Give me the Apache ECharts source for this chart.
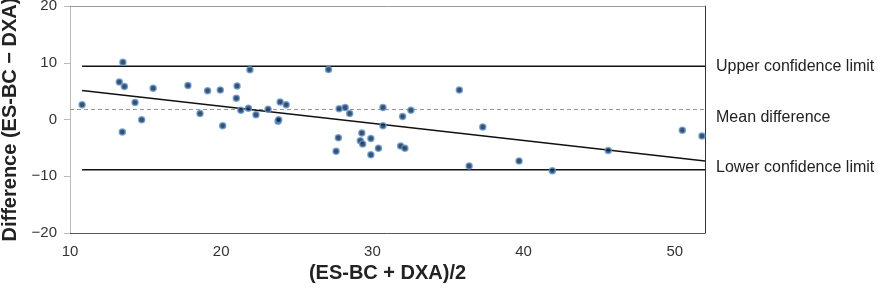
<!DOCTYPE html>
<html>
<head>
<meta charset="utf-8">
<script src="https://cdn.jsdelivr.net/npm/echarts@6/dist/echarts.min.js"></script>
<style>
  html, body { margin: 0; padding: 0; background: #fff; }
  #chart { width: 878px; height: 290px; }
</style>
</head>
<body>
<div id="chart"></div>
<script>
// 数据：平均值 (ES-BC + DXA)/2 和差值 (ES-BC - DXA)
const avgValues = [10.8, 13.5, 13.26, 13.6, 14.3, 14.74, 13.46, 15.5, 17.8, 19.1,
  18.6, 19.94, 20.1, 21.05, 21.0, 21.9, 21.3, 21.8, 22.3, 23.1,
  23.9, 24.3, 23.76, 23.8, 27.1, 27.8, 27.75, 27.6, 28.2, 28.5,
  30.7, 32.0, 32.55, 35.75, 37.3, 50.5, 51.8, 30.7, 29.3, 29.2,
  29.36, 29.9, 29.9, 30.4, 31.87, 32.15, 36.4, 39.7, 41.9, 45.6];
const diffValues = [2.6, 10.1, 6.6, 5.8, 3.0, -0.05, -2.2, 5.5, 6.0, 5.05,
  1.06, 5.2, -1.1, 5.9, 3.76, 8.75, 1.64, 2.0, 0.82, 1.82,
  3.1, 2.6, -0.3, -0.05, 8.8, 1.9, -3.2, -5.6, 2.1, 1.06,
  2.1, 0.53, 1.64, 5.2, -1.3, -1.9, -2.9, -1.1, -2.4, -3.76,
  -4.3, -3.35, -6.2, -5.05, -4.65, -5.05, -8.2, -7.3, -9.05, -5.46];

const limitX = [10.8, 52];
const meanX = [10, 52];
const upperLimit = 9.4;
const lowerLimit = -8.87;
const meanDiff = 1.76;
const trendX = [10.8, 52];
const trendY = [5.1, -7.3];

const xTicks = { min: 10, max: 52, interval: 10 };
const yTicks = { min: -20, max: 20, interval: 10 };

const font = "'Liberation Sans', Arial, sans-serif";
const chart = echarts.init(document.getElementById('chart'));

const lineLabel = (offsetY) => ({
  show: true,
  formatter: '{a}',
  color: '#222',
  fontSize: 16,
  fontFamily: font,
  distance: 11,
  offset: [0, offsetY]
});

const option = {
  animation: false,
  grid: { left: 70, right: 173, top: 6, bottom: 57, outerBoundsMode: 'none', containLabel: false },
  xAxis: [
    {
      type: 'value',
      min: xTicks.min,
      max: xTicks.max,
      interval: xTicks.interval,
      name: '(ES-BC + DXA)/2',
      nameLocation: 'middle',
      nameGap: 28,
      nameTextStyle: { fontSize: 20, fontWeight: 'bold', color: '#222', fontFamily: font },
      axisLine: { onZero: false, lineStyle: { color: '#555' } },
      axisTick: { show: false },
      axisLabel: { color: '#333', fontSize: 15, fontFamily: font, margin: 11, showMaxLabel: false },
      splitLine: { show: false }
    },
    {
      type: 'value',
      position: 'top',
      min: xTicks.min,
      max: xTicks.max,
      axisLine: { show: true, onZero: false, lineStyle: { color: '#999' } },
      axisTick: { show: false },
      axisLabel: { show: false },
      splitLine: { show: false }
    }
  ],
  yAxis: [
    {
      type: 'value',
      min: yTicks.min,
      max: yTicks.max,
      interval: yTicks.interval,
      name: 'Difference (ES-BC − DXA)',
      nameLocation: 'middle',
      nameGap: 44,
      nameTextStyle: { fontSize: 20, fontWeight: 'bold', color: '#222', fontFamily: font },
      axisLine: { show: true, onZero: false, lineStyle: { color: '#bbb' } },
      axisTick: { show: true, length: 6, lineStyle: { color: '#bbb' } },
      axisLabel: {
        color: '#333', fontSize: 15, fontFamily: font, margin: 13,
        formatter: v => String(v).replace('-', '−')
      },
      splitLine: { show: false }
    },
    {
      type: 'value',
      position: 'right',
      min: yTicks.min,
      max: yTicks.max,
      axisLine: { show: true, onZero: false, lineStyle: { color: '#333' } },
      axisTick: { show: false },
      axisLabel: { show: false },
      splitLine: { show: false }
    }
  ],
  series: [
    {
      name: 'Mean difference',
      type: 'line',
      data: meanX.map(x => [x, meanDiff]),
      symbol: 'none',
      clip: false,
      lineStyle: { color: '#999', width: 1, type: [4, 3] },
      endLabel: lineLabel(8)
    },
    {
      name: 'Upper confidence limit',
      type: 'line',
      data: limitX.map(x => [x, upperLimit]),
      symbol: 'none',
      clip: false,
      lineStyle: { color: '#111', width: 1.5 },
      endLabel: lineLabel(0)
    },
    {
      name: 'Lower confidence limit',
      type: 'line',
      data: limitX.map(x => [x, lowerLimit]),
      symbol: 'none',
      clip: false,
      lineStyle: { color: '#111', width: 1.5 },
      endLabel: lineLabel(-2)
    },
    {
      name: 'trend',
      type: 'line',
      data: trendX.map((x, i) => [x, trendY[i]]),
      symbol: 'none',
      lineStyle: { color: '#111', width: 1.5 }
    },
    {
      name: 'points',
      type: 'scatter',
      data: avgValues.map((x, i) => [x, diffValues[i]]),
      symbolSize: 6,
      itemStyle: { color: '#0f2340', borderColor: '#5f97d4', borderWidth: 1.5 },
      z: 5
    }
  ]
};

chart.setOption(option);
</script>
</body>
</html>
